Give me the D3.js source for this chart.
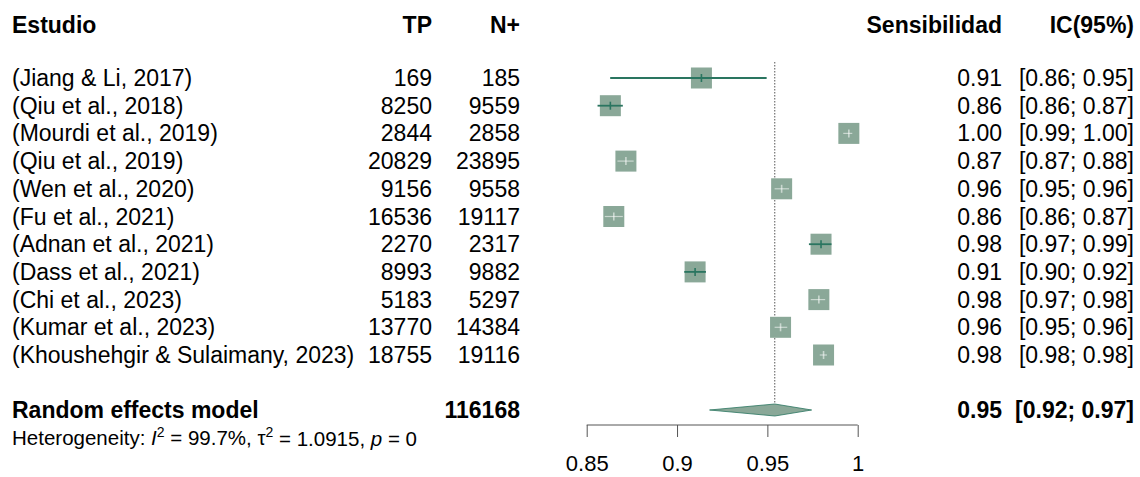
<!DOCTYPE html>
<html>
<head>
<meta charset="utf-8">
<script src="https://cdn.jsdelivr.net/npm/d3@7"></script>
<style>
  body { margin: 0; background: #fff; }
  text { font-family: "Liberation Sans", Arial, sans-serif; }
</style>
</head>
<body>
<script>
var w = 1140;
var h = 477;

// study data
var studies = ["(Jiang & Li, 2017)", "(Qiu et al., 2018)", "(Mourdi et al., 2019)", "(Qiu et al., 2019)",
  "(Wen et al., 2020)", "(Fu et al., 2021)", "(Adnan et al., 2021)", "(Dass et al., 2021)",
  "(Chi et al., 2023)", "(Kumar et al., 2023)", "(Khoushehgir & Sulaimany, 2023)"];
var tp = [169, 8250, 2844, 20829, 9156, 16536, 2270, 8993, 5183, 13770, 18755];
var npos = [185, 9559, 2858, 23895, 9558, 19117, 2317, 9882, 5297, 14384, 19116];
var sens = [0.9135, 0.8631, 0.9951, 0.8717, 0.9579, 0.8650, 0.9797, 0.9100, 0.9785, 0.9573, 0.9811];
var lower = [0.863, 0.856, 0.992, 0.867, 0.954, 0.860, 0.973, 0.904, 0.974, 0.954, 0.979];
var upper = [0.9496, 0.870, 0.997, 0.876, 0.962, 0.870, 0.9855, 0.916, 0.982, 0.961, 0.983];
var sensLab = ["0.91", "0.86", "1.00", "0.87", "0.96", "0.86", "0.98", "0.91", "0.98", "0.96", "0.98"];
var ciLab = ["[0.86; 0.95]", "[0.86; 0.87]", "[0.99; 1.00]", "[0.87; 0.88]", "[0.95; 0.96]", "[0.86; 0.87]",
  "[0.97; 0.99]", "[0.90; 0.92]", "[0.97; 0.98]", "[0.95; 0.96]", "[0.98; 0.98]"];

// pooled (random effects)
var pooled = {est: 0.9541, lo: 0.918, hi: 0.9745, n: 116168, estLab: "0.95", ciLab: "[0.92; 0.97]"};
var ticks = [0.85, 0.9, 0.95, 1];

var fs = 23;
var sqCol = "#8aa898";
var lineCol = "#2a7560";

var svg = d3.select("body").append("svg")
  .attr("width", w)
  .attr("height", h);

var x = d3.scaleLinear().domain([0.85, 1]).range([586.7, 857.7]);
var y = d3.scaleLinear().domain([0, studies.length - 1]).range([78, 355]);

// headers
var hdr = svg.append("g").attr("font-weight", "bold").attr("font-size", fs);
hdr.append("text").attr("x", 12).attr("y", 25).attr("dy", "0.35em").text("Estudio");
hdr.append("text").attr("x", 432).attr("y", 25).attr("dy", "0.35em").attr("text-anchor", "end").text("TP");
hdr.append("text").attr("x", 520).attr("y", 25).attr("dy", "0.35em").attr("text-anchor", "end").text("N+");
hdr.append("text").attr("x", 1002).attr("y", 25).attr("dy", "0.35em").attr("text-anchor", "end").text("Sensibilidad");
hdr.append("text").attr("x", 1134).attr("y", 25).attr("dy", "0.35em").attr("text-anchor", "end").text("IC(95%)");

// table rows
var rows = svg.append("g").attr("font-size", fs);
studies.forEach(function(s, i) {
  var yy = y(i);
  rows.append("text").attr("x", 12).attr("y", yy).attr("dy", "0.35em").text(s);
  rows.append("text").attr("x", 432).attr("y", yy).attr("dy", "0.35em").attr("text-anchor", "end").text(tp[i]);
  rows.append("text").attr("x", 520).attr("y", yy).attr("dy", "0.35em").attr("text-anchor", "end").text(npos[i]);
  rows.append("text").attr("x", 1002).attr("y", yy).attr("dy", "0.35em").attr("text-anchor", "end").text(sensLab[i]);
  rows.append("text").attr("x", 1134).attr("y", yy).attr("dy", "0.35em").attr("text-anchor", "end").text(ciLab[i]);
});

// reference line at pooled estimate
svg.append("line")
  .attr("x1", x(pooled.est)).attr("x2", x(pooled.est))
  .attr("y1", 62).attr("y2", 404)
  .attr("stroke", "#555").attr("stroke-width", 1)
  .attr("stroke-dasharray", "1.5,1.5");

// squares and CIs
var half = 10.5;
var marks = svg.append("g");
studies.forEach(function(s, i) {
  var yy = y(i), cx = x(sens[i]);
  var inside = x(lower[i]) >= cx - half && x(upper[i]) <= cx + half;
  marks.append("rect")
    .attr("x", cx - half).attr("y", yy - half)
    .attr("width", half * 2).attr("height", half * 2)
    .attr("fill", sqCol);
  var c = inside ? "rgba(255,255,255,0.55)" : lineCol;
  marks.append("line")
    .attr("x1", x(lower[i])).attr("x2", x(upper[i]))
    .attr("y1", yy).attr("y2", yy)
    .attr("stroke", c).attr("stroke-width", inside ? 1.2 : 1.8);
  marks.append("line")
    .attr("x1", cx).attr("x2", cx)
    .attr("y1", yy - 4).attr("y2", yy + 4)
    .attr("stroke", c).attr("stroke-width", 1.6);
});

// pooled row
var py = 410;
svg.append("polygon")
  .attr("points", [[x(pooled.lo), py], [x(pooled.est), py - 6], [x(pooled.hi), py], [x(pooled.est), py + 6]].join(" "))
  .attr("fill", sqCol).attr("stroke", lineCol).attr("stroke-width", 0.8);

var pr = svg.append("g").attr("font-size", fs).attr("font-weight", "bold");
pr.append("text").attr("x", 12).attr("y", py).attr("dy", "0.35em").text("Random effects model");
pr.append("text").attr("x", 520).attr("y", py).attr("dy", "0.35em").attr("text-anchor", "end").text(pooled.n);
pr.append("text").attr("x", 1002).attr("y", py).attr("dy", "0.35em").attr("text-anchor", "end").text(pooled.estLab);
pr.append("text").attr("x", 1134).attr("y", py).attr("dy", "0.35em").attr("text-anchor", "end").text(pooled.ciLab);

// heterogeneity
var het = svg.append("text").attr("x", 12).attr("y", 438).attr("dy", "0.35em").attr("font-size", 20.5);
het.append("tspan").text("Heterogeneity: ");
het.append("tspan").attr("font-style", "italic").text("I");
het.append("tspan").attr("font-size", 14).attr("dy", "-0.6em").text("2");
het.append("tspan").attr("dy", "0.42em").text(" = 99.7%, \u03c4");
het.append("tspan").attr("font-size", 14).attr("dy", "-0.6em").text("2");
het.append("tspan").attr("dy", "0.42em").text(" = 1.0915, ");
het.append("tspan").attr("font-style", "italic").text("p");
het.append("tspan").text(" = 0");

// axis
var axis = d3.axisBottom(x)
  .tickValues(ticks)
  .tickSize(12)
  .tickPadding(18)
  .tickFormat(function(d) { return String(d); });

var ax = svg.append("g")
  .attr("transform", "translate(0,425)")
  .call(axis);
ax.select(".domain").attr("stroke", "#555").attr("d", "M" + x(0.85) + ",0H" + x(1));
ax.selectAll(".tick line").attr("stroke", "#555");
ax.selectAll(".tick text").attr("font-size", 22).attr("fill", "#000")
  .attr("font-family", "Liberation Sans, Arial, sans-serif");
</script>
</body>
</html>
